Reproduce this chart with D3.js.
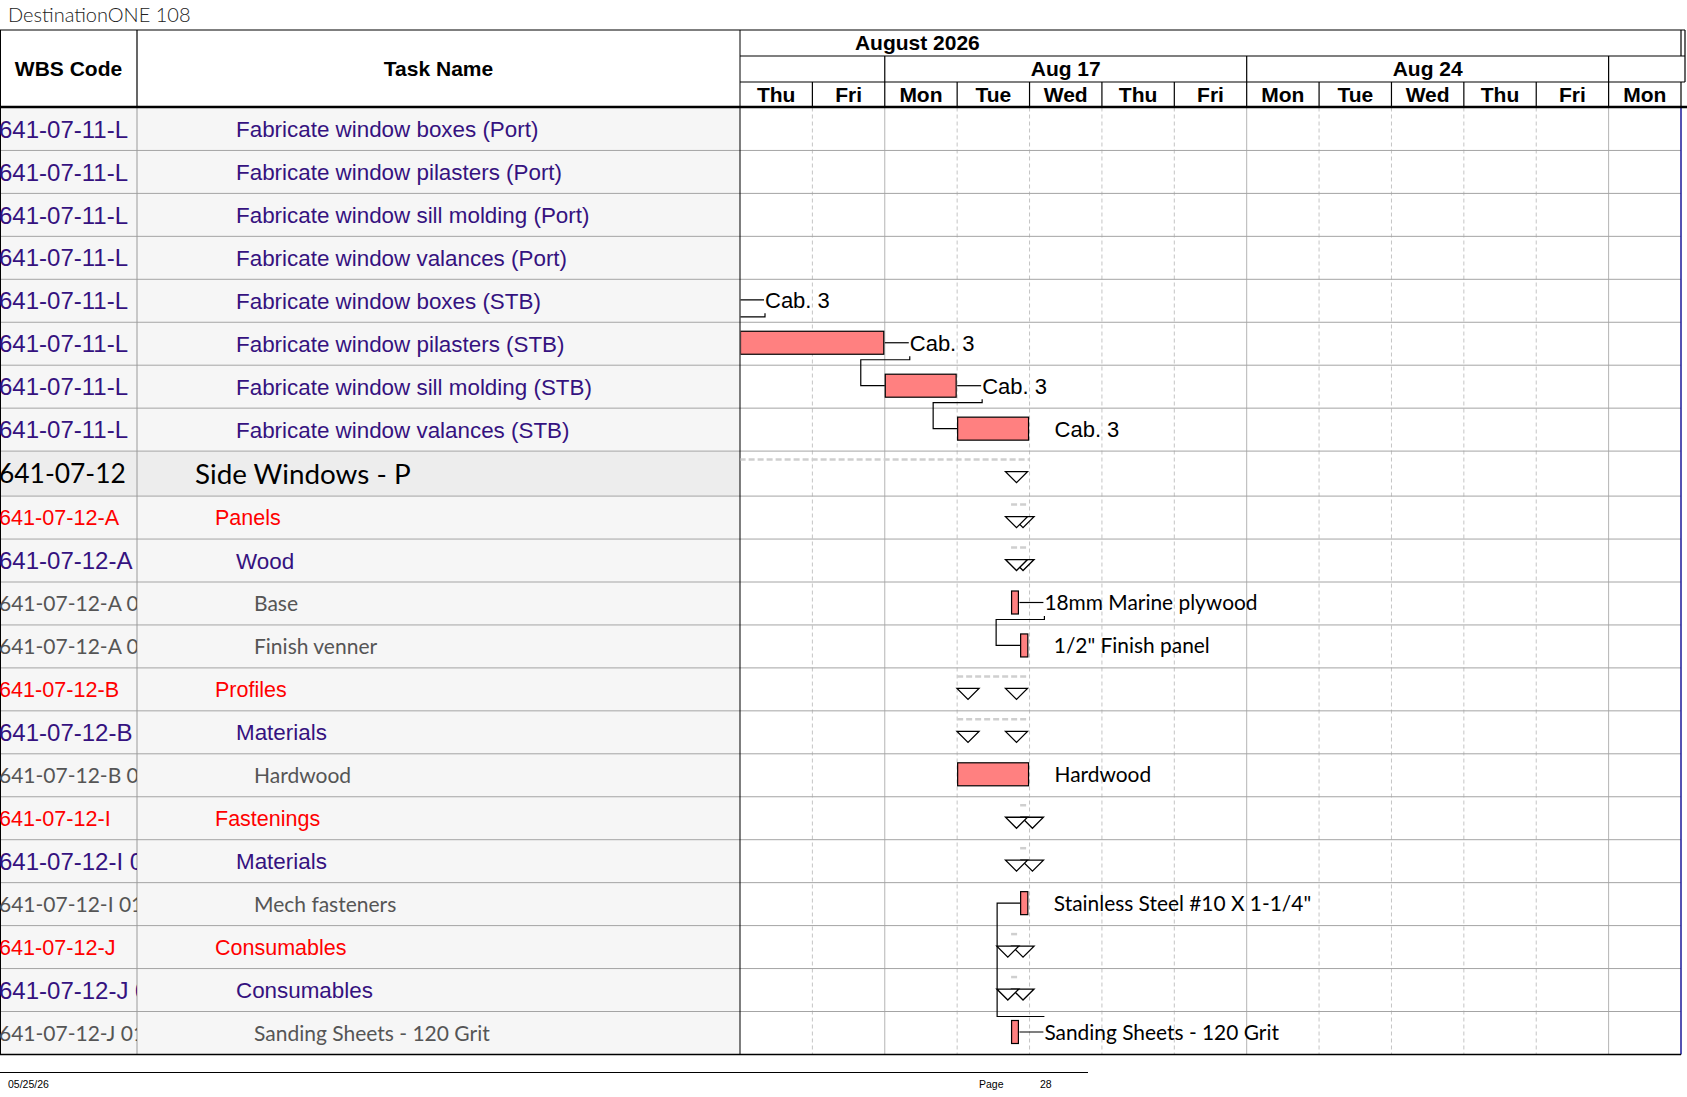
<!DOCTYPE html>
<html lang="en">
<head>
<meta charset="utf-8">
<title>DestinationONE 108</title>
<script src="https://d3js.org/d3.v7.min.js"></script>
<style>
  body { margin: 0; background: #fff; }
  svg { display: block; }
</style>
</head>
<body>
<div id="main"></div>
<script type="text/javascript">
    const docTitle = 'DestinationONE 108';
    const monthLabel = 'August 2026';
    const dayLabels = ['Thu', 'Fri', 'Mon', 'Tue', 'Wed', 'Thu', 'Fri', 'Mon', 'Tue', 'Wed', 'Thu', 'Fri', 'Mon'];
    const weekLabels = ['', 'Aug 17', 'Aug 24', ''];
    const footerDate = '05/25/26';
    const footerPage = '28';

    const wbsCodes = [
        '641-07-11-L', '641-07-11-L', '641-07-11-L', '641-07-11-L',
        '641-07-11-L', '641-07-11-L', '641-07-11-L', '641-07-11-L',
        '641-07-12',
        '641-07-12-A', '641-07-12-A', '641-07-12-A 01', '641-07-12-A 02',
        '641-07-12-B', '641-07-12-B', '641-07-12-B 01',
        '641-07-12-I', '641-07-12-I 01', '641-07-12-I 0101',
        '641-07-12-J', '641-07-12-J 01', '641-07-12-J 0101'
    ];
    const taskNames = [
        'Fabricate window boxes (Port)', 'Fabricate window pilasters (Port)',
        'Fabricate window sill molding (Port)', 'Fabricate window valances (Port)',
        'Fabricate window boxes (STB)', 'Fabricate window pilasters (STB)',
        'Fabricate window sill molding (STB)', 'Fabricate window valances (STB)',
        'Side Windows - P',
        'Panels', 'Wood', 'Base', 'Finish venner',
        'Profiles', 'Materials', 'Hardwood',
        'Fastenings', 'Materials', 'Mech fasteners',
        'Consumables', 'Consumables', 'Sanding Sheets - 120 Grit'
    ];
    const rowStyles = [
        'task', 'task', 'task', 'task', 'task', 'task', 'task', 'task',
        'summary',
        'group', 'sub', 'item', 'item',
        'group', 'sub', 'item',
        'group', 'sub', 'item',
        'group', 'sub', 'item'
    ];

    // task bars, in working days from the first visible day (null = no bar)
    const barStart = [null, null, null, null, -0.5, 0, 2, 3, null, null, null, 3.745, 3.87, null, null, 3, null, null, 3.87, null, null, 3.745];
    const barEnd   = [null, null, null, null, 0, 2, 3, 4, null, null, null, 3.86, 3.99, null, null, 4, null, null, 3.99, null, null, 3.86];
    const barLabels = ['', '', '', '', 'Cab. 3', 'Cab. 3', 'Cab. 3', 'Cab. 3', '', '', '',
        '18mm Marine plywood', '1/2" Finish panel', '', '', 'Hardwood', '', '',
        'Stainless Steel #10 X 1-1/4"', '', '', 'Sanding Sheets - 120 Grit'];
    const labelLinked = [false, false, false, false, true, true, true, false, false, false, false,
        true, false, false, false, false, false, false, false, false, false, true];

    // summary rows: dashed span and the triangle markers
    const summaryStart = [null, null, null, null, null, null, null, null, -1, 3.745, 3.745, null, null, 3, 3, null, 3.87, 3.87, null, 3.745, 3.745, null];
    const summaryEnd   = [null, null, null, null, null, null, null, null, 4, 3.99, 3.99, null, null, 3.99, 3.99, null, 3.99, 3.99, null, 3.86, 3.86, null];
    const summaryMarks = [[], [], [], [], [], [], [], [], [3.82], [3.82, 3.91], [3.82, 3.91], [], [],
        [3.15, 3.82], [3.15, 3.82], [], [3.82, 4.04], [3.82, 4.04], [], [3.70, 3.91], [3.70, 3.91], []];

    // dependency links [predecessor row, successor row]
    const links = [[4, 5], [5, 6], [6, 7], [11, 12], [21, 18]];

    // ---- layout ----
    const width = 1687;
    const height = 1097;
    const wbsRight = 137;
    const chartLeft = 740;
    const chartRight = 1681;
    const headerTop = 30;
    const monthBottom = 56;
    const weekBottom = 82;
    const headerBottom = 107.5;
    const rowH = 42.95;
    const summaryH = 45;

    const ARIAL = '"Liberation Sans", Arial, sans-serif';
    const HUMAN = 'Lato, "Open Sans", sans-serif';
    const PURPLE = '#35127f';

    const rowFmt = {
        task:    { wbsFont: ARIAL, wbsSize: 24, font: ARIAL, size: 22.4, color: PURPLE, indent: 236 },
        summary: { wbsFont: HUMAN, wbsSize: 26.4, font: HUMAN, size: 27.8, color: '#000', indent: 195 },
        group:   { wbsFont: ARIAL, wbsSize: 21.6, font: ARIAL, size: 21.5, color: '#ff0000', indent: 215 },
        sub:     { wbsFont: ARIAL, wbsSize: 24, font: ARIAL, size: 22.4, color: PURPLE, indent: 236 },
        item:    { wbsFont: HUMAN, wbsSize: 21, font: HUMAN, size: 21, color: '#555', indent: 254 }
    };

    const rowTops = [];
    let acc = headerBottom;
    rowStyles.forEach(s => { rowTops.push(acc); acc += (s === 'summary' ? summaryH : rowH); });
    const tableBottom = acc;
    const rowHeight = i => rowStyles[i] === 'summary' ? summaryH : rowH;
    const barTop = i => rowTops[i] + 9;
    const barMid = i => rowTops[i] + 20.5;

    const x = d3.scaleLinear()
        .domain([0, dayLabels.length])
        .range([chartLeft, chartRight]);

    const svg = d3.select('#main')
        .append('svg')
        .attr('width', width)
        .attr('height', height);

    const defs = svg.append('defs');
    defs.append('clipPath').attr('id', 'clipChart')
        .append('rect')
        .attr('x', chartLeft + 0.5).attr('y', headerBottom)
        .attr('width', chartRight - chartLeft).attr('height', tableBottom - headerBottom);
    defs.append('clipPath').attr('id', 'clipWbs')
        .append('rect')
        .attr('x', 0).attr('y', headerBottom)
        .attr('width', wbsRight).attr('height', tableBottom - headerBottom);

    // title
    svg.append('text')
        .attr('x', 8).attr('y', 22)
        .attr('font-family', HUMAN).attr('font-weight', 300)
        .attr('font-size', 20).attr('fill', '#222')
        .text(docTitle);

    // row backgrounds of the table part
    svg.append('g').selectAll('rect')
        .data(rowStyles)
        .join('rect')
        .attr('x', 0)
        .attr('y', (d, i) => rowTops[i])
        .attr('width', chartLeft)
        .attr('height', (d, i) => rowHeight(i))
        .attr('fill', d => d === 'summary' ? '#ededed' : '#f6f6f6');

    // day grid in the chart body
    const dayIdx = d3.range(1, dayLabels.length);
    svg.append('g').selectAll('line')
        .data(dayIdx)
        .join('line')
        .attr('x1', d => x(d)).attr('x2', d => x(d))
        .attr('y1', headerBottom).attr('y2', tableBottom)
        .attr('stroke', d => dayLabels[d] === 'Mon' ? '#b4b4b4' : '#c4c4c4')
        .attr('stroke-dasharray', d => dayLabels[d] === 'Mon' ? null : '4,3');

    // row separators
    svg.append('g').selectAll('line')
        .data(rowTops.slice(1))
        .join('line')
        .attr('x1', 0).attr('x2', chartRight)
        .attr('y1', d => d).attr('y2', d => d)
        .attr('stroke', '#a4a4a4');

    // column lines
    svg.append('line').attr('x1', wbsRight).attr('x2', wbsRight)
        .attr('y1', headerBottom).attr('y2', tableBottom).attr('stroke', '#9a9a9a');
    svg.append('line').attr('x1', chartLeft).attr('x2', chartLeft)
        .attr('y1', headerTop).attr('y2', tableBottom).attr('stroke', '#000');
    svg.append('line').attr('x1', 0.5).attr('x2', 0.5)
        .attr('y1', headerTop).attr('y2', tableBottom).attr('stroke', '#000');
    svg.append('line').attr('x1', chartRight).attr('x2', chartRight)
        .attr('y1', headerBottom).attr('y2', tableBottom).attr('stroke', '#1a1a9a').attr('stroke-width', 1.5);
    svg.append('line').attr('x1', 0).attr('x2', chartRight)
        .attr('y1', tableBottom).attr('y2', tableBottom).attr('stroke', '#000').attr('stroke-width', 1.5);

    // ---- header ----
    const hdr = svg.append('g').attr('stroke', '#000').attr('stroke-width', 1.2);
    hdr.append('line').attr('x1', 0).attr('x2', 1685).attr('y1', headerTop).attr('y2', headerTop);
    hdr.append('line').attr('x1', wbsRight).attr('x2', wbsRight).attr('y1', headerTop).attr('y2', headerBottom);
    hdr.append('line').attr('x1', chartLeft).attr('x2', 1685).attr('y1', monthBottom).attr('y2', monthBottom);
    hdr.append('line').attr('x1', chartLeft).attr('x2', 1685).attr('y1', weekBottom).attr('y2', weekBottom);
    hdr.append('line').attr('x1', 1685).attr('x2', 1685).attr('y1', headerTop).attr('y2', weekBottom);
    hdr.append('line').attr('x1', chartRight).attr('x2', chartRight).attr('y1', headerTop).attr('y2', monthBottom);
    hdr.append('line').attr('x1', chartRight).attr('x2', chartRight).attr('y1', weekBottom).attr('y2', headerBottom);

    const mondays = dayLabels.map((d, i) => d === 'Mon' ? i : -1).filter(i => i > 0);
    hdr.selectAll('line.wk')
        .data(mondays)
        .join('line')
        .attr('class', 'wk')
        .attr('x1', d => x(d)).attr('x2', d => x(d))
        .attr('y1', monthBottom).attr('y2', weekBottom);
    hdr.selectAll('line.dy')
        .data(dayIdx)
        .join('line')
        .attr('class', 'dy')
        .attr('x1', d => x(d)).attr('x2', d => x(d))
        .attr('y1', weekBottom).attr('y2', headerBottom);
    svg.append('line').attr('x1', 0).attr('x2', width)
        .attr('y1', headerBottom - 0.5).attr('y2', headerBottom - 0.5)
        .attr('stroke', '#000').attr('stroke-width', 2.5);

    const hText = (tx, ty, s) => svg.append('text')
        .attr('x', tx).attr('y', ty).attr('dy', '0.36em')
        .attr('text-anchor', 'middle')
        .attr('font-family', ARIAL).attr('font-weight', 'bold').attr('font-size', 21)
        .text(s);
    hText(wbsRight / 2, (headerTop + headerBottom) / 2, 'WBS Code');
    hText((wbsRight + chartLeft) / 2, (headerTop + headerBottom) / 2, 'Task Name');
    hText(x(2.45), (headerTop + monthBottom) / 2 - 1, monthLabel);

    // week cells bounded by the Mondays
    const weekEdges = [0].concat(mondays, [dayLabels.length]);
    weekLabels.forEach((w, i) => {
        hText((x(weekEdges[i]) + x(weekEdges[i + 1])) / 2, (monthBottom + weekBottom) / 2 - 0.5, w);
    });
    dayLabels.forEach((d, i) => hText(x(i + 0.5), (weekBottom + headerBottom) / 2 - 0.5, d));

    // ---- table text ----
    svg.append('g').attr('clip-path', 'url(#clipWbs)')
        .selectAll('text')
        .data(wbsCodes)
        .join('text')
        .attr('x', -1)
        .attr('y', (d, i) => rowTops[i] + rowHeight(i) / 2)
        .attr('dy', '0.36em')
        .attr('font-family', (d, i) => rowFmt[rowStyles[i]].wbsFont)
        .attr('font-size', (d, i) => rowFmt[rowStyles[i]].wbsSize)
        .attr('fill', (d, i) => rowFmt[rowStyles[i]].color)
        .style('white-space', 'pre')
        .text(d => d);

    svg.append('g').selectAll('text')
        .data(taskNames)
        .join('text')
        .attr('x', (d, i) => rowFmt[rowStyles[i]].indent)
        .attr('y', (d, i) => rowTops[i] + rowHeight(i) / 2)
        .attr('dy', '0.36em')
        .attr('font-family', (d, i) => rowFmt[rowStyles[i]].font)
        .attr('font-size', (d, i) => rowFmt[rowStyles[i]].size)
        .attr('fill', (d, i) => rowFmt[rowStyles[i]].color)
        .text(d => d);

    // ---- gantt marks ----
    const plot = svg.append('g').attr('clip-path', 'url(#clipChart)');

    // summary spans (light dashed)
    const sumRows = d3.range(rowStyles.length).filter(i => summaryStart[i] !== null);
    plot.append('g').selectAll('line')
        .data(sumRows)
        .join('line')
        .attr('x1', i => x(summaryStart[i])).attr('x2', i => x(summaryEnd[i]))
        .attr('y1', i => rowTops[i] + 8.5).attr('y2', i => rowTops[i] + 8.5)
        .attr('stroke', '#cfcfcf').attr('stroke-width', 2.5)
        .attr('stroke-dasharray', '6,3');

    // triangle markers, later ones underneath
    const marks = [];
    summaryMarks.forEach((m, i) => m.forEach(v => marks.push({ row: i, v: v })));
    marks.reverse();
    plot.append('g').selectAll('path')
        .data(marks)
        .join('path')
        .attr('d', d => {
            const cx = x(d.v), t = rowTops[d.row] + 20.5;
            return `M${cx - 11},${t}L${cx + 11},${t}L${cx},${t + 11}Z`;
        })
        .attr('fill', '#fff').attr('stroke', '#000').attr('stroke-width', 1.3);

    // dependency connectors
    const labelX = i => x(barEnd[i]) + 25;
    plot.append('g').selectAll('path')
        .data(links)
        .join('path')
        .attr('d', ([a, b]) => {
            const toX = x(barStart[b]);
            if (b > a) {
                return `M${labelX(a)},${rowTops[a] + 34}V${rowTops[a] + 37.5}H${toX - 24}V${barMid(b)}H${toX}`;
            }
            return `M${labelX(a)},${rowTops[a] + 5}H${toX - 23}V${barMid(b)}H${toX}`;
        })
        .attr('fill', 'none').attr('stroke', '#000').attr('stroke-width', 1.2);

    // bars
    const barRows = d3.range(rowStyles.length).filter(i => barStart[i] !== null);
    plot.append('g').selectAll('rect')
        .data(barRows)
        .join('rect')
        .attr('x', i => x(barStart[i]) + 0.5)
        .attr('y', i => barTop(i))
        .attr('width', i => x(barEnd[i]) - x(barStart[i]) - 1.5)
        .attr('height', 23)
        .attr('fill', '#ff8080').attr('stroke', '#000').attr('stroke-width', 1.2);

    // label leader lines and labels
    plot.append('g').selectAll('line')
        .data(barRows.filter(i => labelLinked[i]))
        .join('line')
        .attr('x1', i => x(barEnd[i])).attr('x2', i => labelX(i) - 1)
        .attr('y1', i => barMid(i)).attr('y2', i => barMid(i))
        .attr('stroke', '#000').attr('stroke-width', 1.2);

    svg.append('g').selectAll('text')
        .data(barRows)
        .join('text')
        .attr('x', i => labelX(i))
        .attr('y', i => barMid(i))
        .attr('dy', '0.36em')
        .attr('font-family', i => rowStyles[i] === 'task' ? ARIAL : HUMAN)
        .attr('font-size', i => rowStyles[i] === 'task' ? 22 : 20.9)
        .attr('fill', '#000')
        .text(i => barLabels[i]);

    // ---- footer ----
    svg.append('line').attr('x1', 0).attr('x2', 1088)
        .attr('y1', 1072.5).attr('y2', 1072.5).attr('stroke', '#000');
    const fText = (tx, s) => svg.append('text')
        .attr('x', tx).attr('y', 1088)
        .attr('font-family', '"Liberation Sans Narrow", "Liberation Sans", sans-serif')
        .attr('font-size', 10.5)
        .text(s);
    fText(8, footerDate);
    fText(979, 'Page');
    fText(1040, footerPage);
</script>
</body>
</html>
